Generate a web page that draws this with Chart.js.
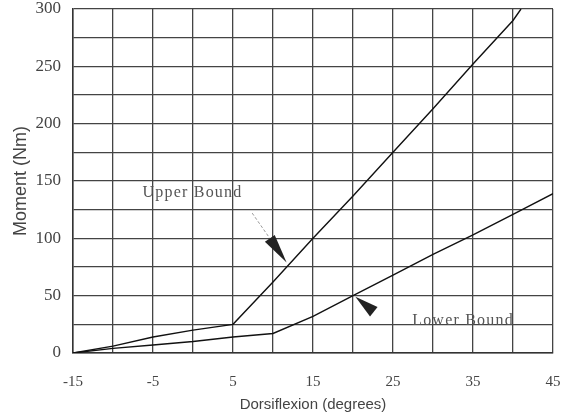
<!DOCTYPE html>
<html lang="en">
<head>
  <meta charset="UTF-8">
  <title>Moment vs Dorsiflexion</title>
  <script src="https://cdn.jsdelivr.net/npm/chart.js@4.4.0/dist/chart.umd.min.js"></script>
  <style>
    body { margin: 0; background: #fff; }
    #wrap { width: 562px; height: 418px; }
  </style>
</head>
<body>
  <div id="wrap"><canvas id="myChart" width="562" height="418"></canvas></div>

  <script>
    // values
    const upperX = [-15, -10, -5, 0, 5, 10, 15, 20, 25, 30, 35, 40, 41];
    const upperY = [0, 6, 14, 20, 25, 62, 100, 137, 175, 213, 252, 290, 300];
    const lowerX = [-15, -10, -5, 0, 5, 10, 15, 20, 25, 30, 35, 40, 45];
    const lowerY = [0, 4, 7, 10, 14, 17, 32, 50, 68, 86, 103, 121, 139];

    // annotation labels and arrow ends, in data units
    const labels = [
      { text: 'Upper Bound', x: -6.3, y: 140 },
      { text: 'Lower Bound', x: 27.4, y: 28 }
    ];
    const arrows = [
      { from: [9.6, 100], to: [11.7, 79], tail: [7.4, 122] },
      { from: [22.6, 36], to: [20.3, 49], tail: null }
    ];

    function toPoints(xs, ys) {
      return xs.map((x, i) => ({ x: x, y: ys[i] }));
    }

    const notes = {
      id: 'notes',
      afterDatasetsDraw(chart) {
        const ctx = chart.ctx;
        const sx = chart.scales.x, sy = chart.scales.y;
        ctx.save();
        ctx.font = '16px "Liberation Serif", serif';
        ctx.letterSpacing = '1.2px';
        ctx.fillStyle = '#555';
        ctx.textBaseline = 'middle';
        ctx.textAlign = 'left';
        labels.forEach(l => {
          ctx.fillText(l.text, sx.getPixelForValue(l.x), sy.getPixelForValue(l.y));
        });
        arrows.forEach(a => {
          const x1 = sx.getPixelForValue(a.from[0]), y1 = sy.getPixelForValue(a.from[1]);
          const x2 = sx.getPixelForValue(a.to[0]), y2 = sy.getPixelForValue(a.to[1]);
          if (a.tail) {
            ctx.strokeStyle = '#999';
            ctx.lineWidth = 1;
            ctx.setLineDash([3, 2]);
            ctx.beginPath();
            ctx.moveTo(sx.getPixelForValue(a.tail[0]), sy.getPixelForValue(a.tail[1]));
            ctx.lineTo(x1, y1);
            ctx.stroke();
            ctx.setLineDash([]);
          }
          const ang = Math.atan2(y2 - y1, x2 - x1);
          const len = Math.hypot(x2 - x1, y2 - y1);
          ctx.fillStyle = '#222';
          ctx.beginPath();
          ctx.moveTo(x2, y2);
          ctx.lineTo(x2 - len * Math.cos(ang) + 6 * Math.sin(ang), y2 - len * Math.sin(ang) - 6 * Math.cos(ang));
          ctx.lineTo(x2 - len * Math.cos(ang) - 6 * Math.sin(ang), y2 - len * Math.sin(ang) + 6 * Math.cos(ang));
          ctx.closePath();
          ctx.fill();
        });
        ctx.restore();
      }
    };

    const ctx = document.getElementById('myChart').getContext('2d');
    const myChart = new Chart(ctx, {
      type: 'scatter',
      data: {
        datasets: [{
          label: 'Upper Bound',
          data: toPoints(upperX, upperY),
          showLine: true,
          borderColor: '#111',
          borderWidth: 1.4,
          pointRadius: 0,
          tension: 0
        }, {
          label: 'Lower Bound',
          data: toPoints(lowerX, lowerY),
          showLine: true,
          borderColor: '#111',
          borderWidth: 1.4,
          pointRadius: 0,
          tension: 0
        }]
      },
      options: {
        responsive: false,
        animation: false,
        layout: { padding: 0 },
        plugins: {
          legend: { display: false },
          tooltip: { enabled: false }
        },
        scales: {
          x: {
            type: 'linear',
            min: -15,
            max: 45,
            border: { color: '#333', width: 1.5 },
            grid: { color: '#444', lineWidth: 1.3, drawTicks: false },
            ticks: {
              stepSize: 5,
              autoSkip: false,
              maxRotation: 0,
              padding: 20,
              color: '#444',
              font: { family: '"Liberation Serif", serif', size: 15 },
              callback: v => ((v + 15) % 10 === 0 ? v : '')
            },
            title: {
              display: true,
              text: 'Dorsiflexion (degrees)',
              color: '#444',
              font: { family: '"Liberation Sans", Arial, sans-serif', size: 15 },
              padding: { top: 2, bottom: 4 }
            },
            afterFit(scale) {
              scale.height = 65;
              scale.paddingLeft = 0;
              scale.paddingRight = 9;
            }
          },
          y: {
            min: 0,
            max: 300,
            border: { color: '#333', width: 1.5 },
            grid: { color: '#444', lineWidth: 1.3, drawTicks: false },
            ticks: {
              stepSize: 25,
              autoSkip: false,
              padding: 12,
              color: '#444',
              font: { family: '"Liberation Serif", serif', size: 17 },
              callback: v => (v % 50 === 0 ? v : '')
            },
            title: {
              display: true,
              text: 'Moment (Nm)',
              color: '#444',
              font: { family: '"Liberation Sans", Arial, sans-serif', size: 18 },
              padding: { top: 10, bottom: 4 }
            },
            afterFit(scale) {
              scale.width = 73;
              scale.paddingTop = 9;
              scale.paddingBottom = 0;
            }
          }
        }
      },
      plugins: [notes]
    });
  </script>
</body>
</html>
